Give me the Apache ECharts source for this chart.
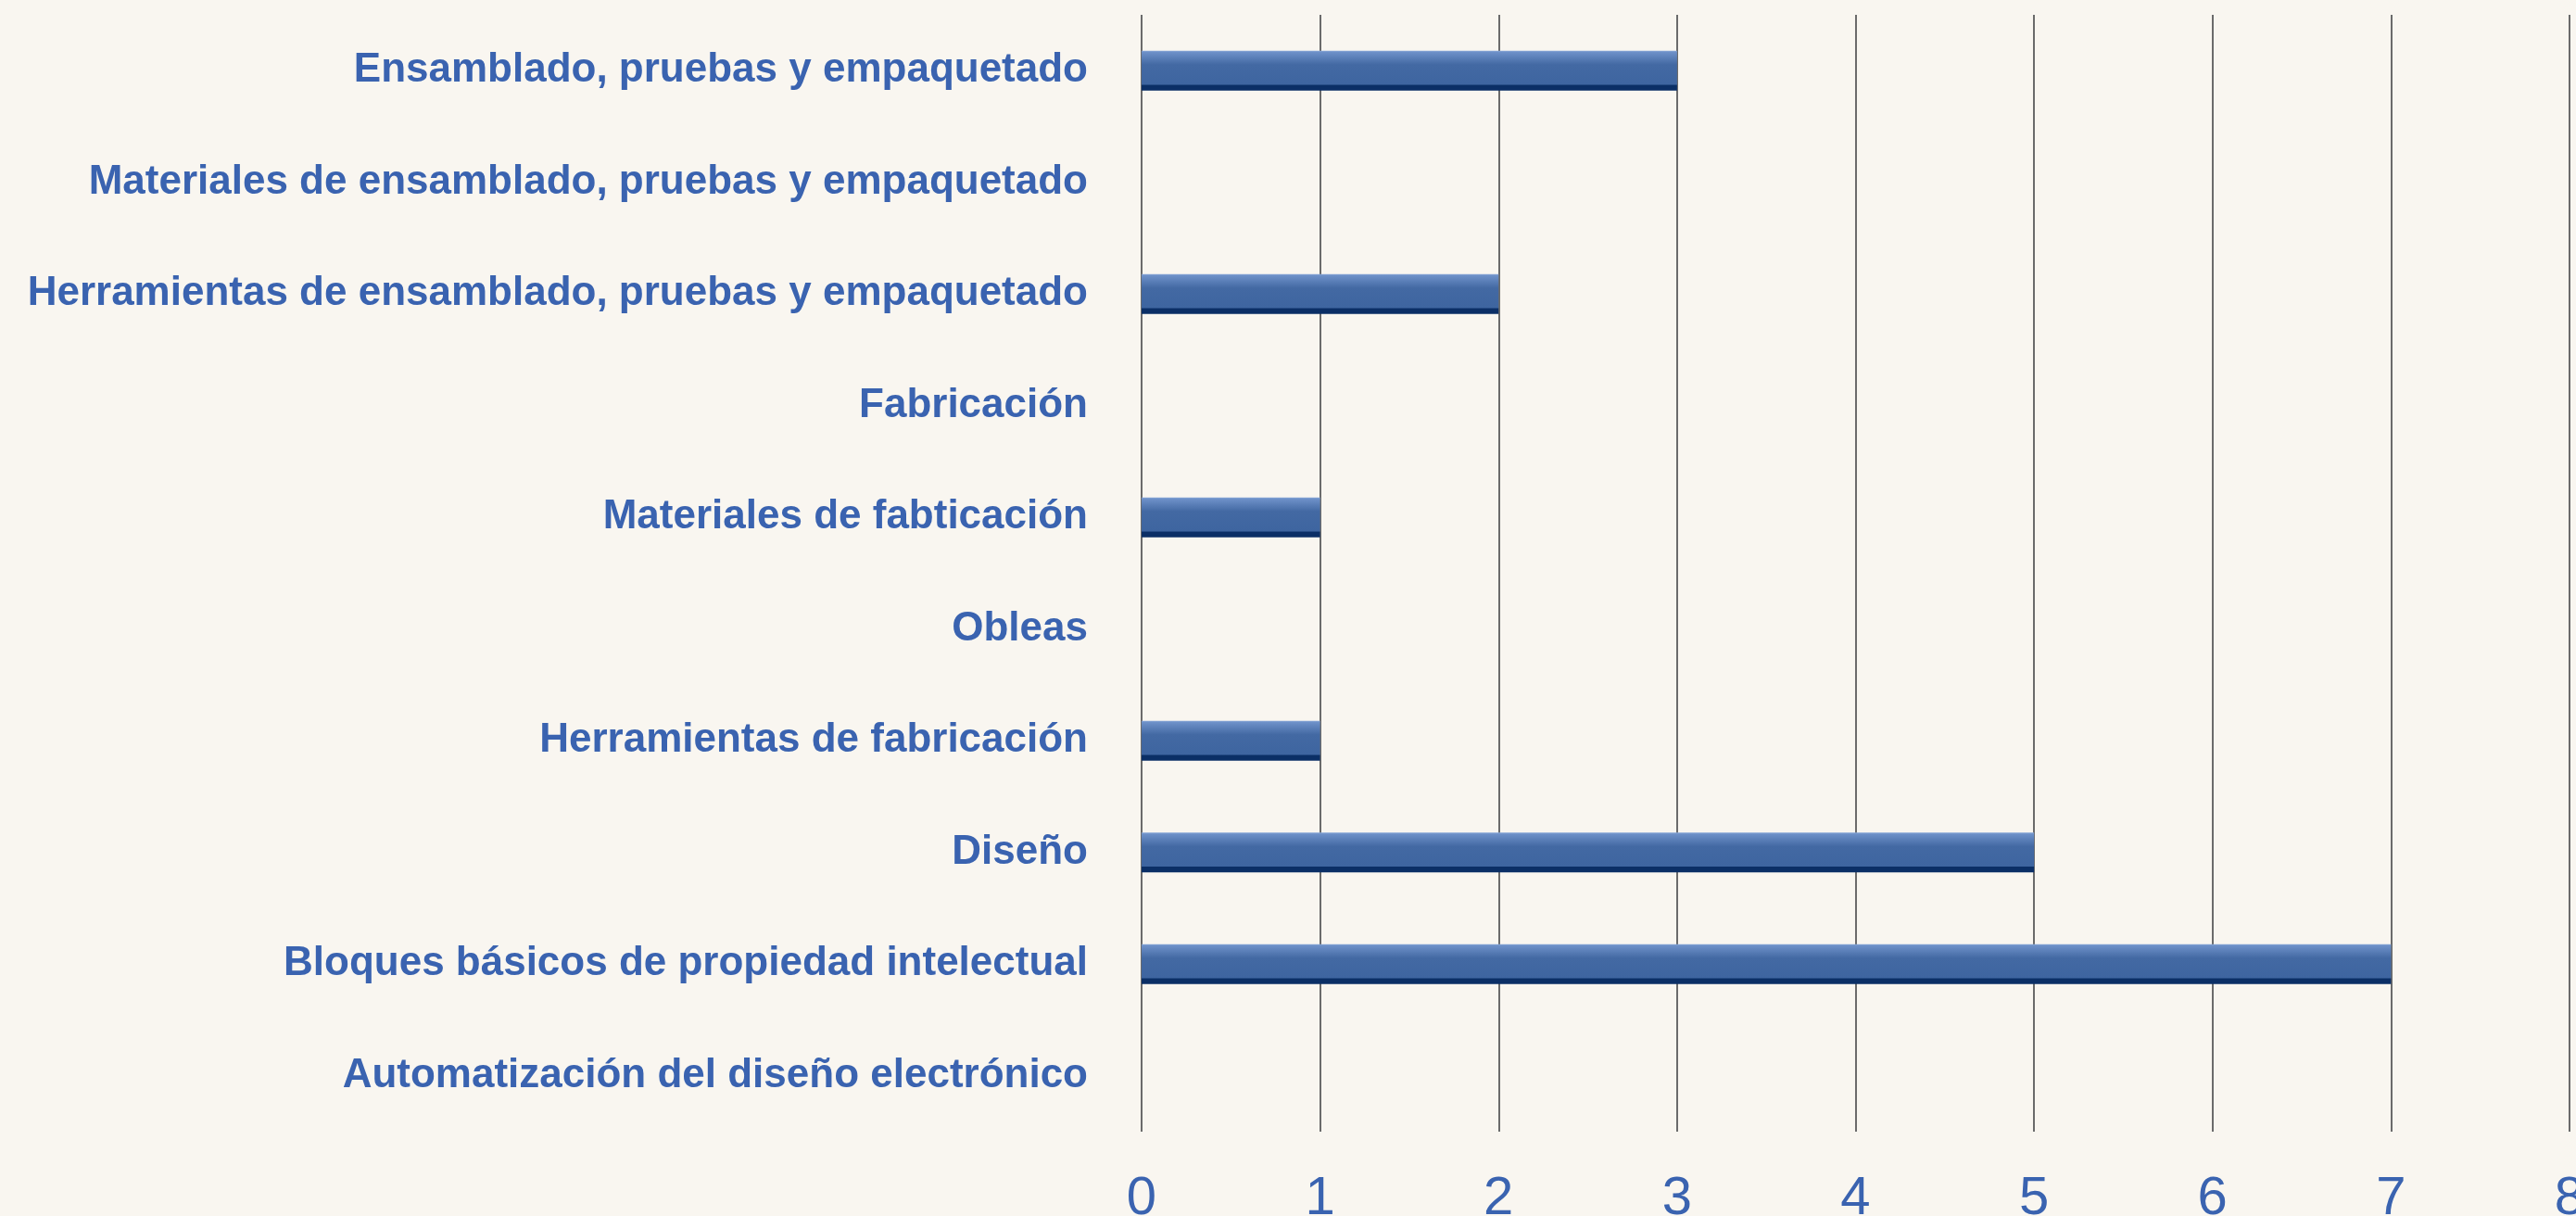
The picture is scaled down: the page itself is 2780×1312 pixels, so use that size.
<!DOCTYPE html>
<html lang="es">
<head>
    <meta charset="UTF-8">
    <title>Segmentos</title>
    <script src="https://cdn.jsdelivr.net/npm/echarts@6/dist/echarts.min.js"></script>
    <style>
        html, body { margin: 0; padding: 0; background: #f9f6f0; }
        #main { width: 2780px; height: 1312px; }
    </style>
</head>
<body>
<div id="main"></div>
<script>
    // categorias (de abajo hacia arriba, como en el eje)
    var categorias = [
        'Automatización del diseño electrónico',
        'Bloques básicos de propiedad intelectual',
        'Diseño',
        'Herramientas de fabricación',
        'Obleas',
        'Materiales de fabticación',
        'Fabricación',
        'Herramientas de ensamblado, pruebas y empaquetado',
        'Materiales de ensamblado, pruebas y empaquetado',
        'Ensamblado, pruebas y empaquetado'
    ];
    var valores = [0, 7, 5, 1, 0, 1, 0, 2, 0, 3];
    var ticks = [0, 1, 2, 3, 4, 5, 6, 7, 8];

    var azul = '#3a63b0';
    var myChart = echarts.init(document.getElementById('main'));

    var option = {
        backgroundColor: '#f9f6f0',
        animation: false,
        grid: {
            left: 1232, right: 7, top: 16, bottom: 91,
            containLabel: false,
            outerBoundsMode: 'none'
        },
        xAxis: {
            type: 'value',
            min: ticks[0],
            max: ticks[ticks.length - 1],
            interval: 1,
            axisLine: { show: false },
            axisTick: { show: false },
            splitLine: { show: true, lineStyle: { color: '#6b6b6b', width: 2 } },
            axisLabel: {
                color: azul,
                fontSize: 58,
                fontFamily: 'Liberation Sans',
                margin: 44
            }
        },
        yAxis: {
            type: 'category',
            data: categorias,
            axisLine: { show: false },
            axisTick: { show: false },
            splitLine: { show: false },
            axisLabel: {
                color: azul,
                fontSize: 44,
                fontFamily: 'Liberation Sans',
                fontWeight: 'bold',
                margin: 58
            }
        },
        series: [{
            type: 'bar',
            data: valores,
            barWidth: 43,
            itemStyle: {
                color: {
                    type: 'linear', x: 0, y: 0, x2: 0, y2: 1,
                    colorStops: [
                        { offset: 0, color: '#8aa8d8' },
                        { offset: 0.04, color: '#6d90c8' },
                        { offset: 0.35, color: '#4369a3' },
                        { offset: 0.85, color: '#3e65a0' },
                        { offset: 0.86, color: '#0b2f66' },
                        { offset: 1, color: '#0b2f66' }
                    ]
                }
            }
        }]
    };

    myChart.setOption(option);
</script>
</body>
</html>
